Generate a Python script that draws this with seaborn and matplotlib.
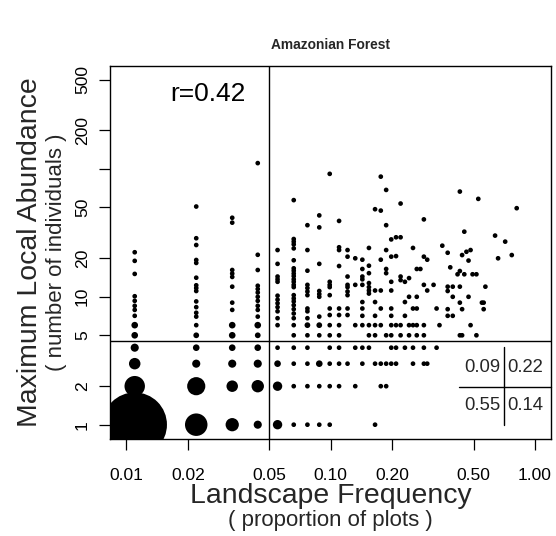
import numpy as np
import pandas as pd
import matplotlib
matplotlib.use("Agg")
import matplotlib.pyplot as plt
from matplotlib.ticker import FixedLocator, NullLocator
import seaborn as sns

N_PLOTS = 91  # landscape frequency = plots occupied / N_PLOTS

# Low-abundance rows (1..6 individuals): plots occupied and relative symbol weight
row_levels = [1, 2, 3, 4, 5, 6]
row_plots_1 = [1, 2, 3, 4, 5, 6, 7, 8, 9, 15]
row_weight_1 = [189, 23, 8, 3, 4, 1, 1, 1, 1, 1]
row_plots_2 = [1, 2, 3, 4, 5, 6, 7, 8, 9, 10, 12, 16, 17]
row_weight_2 = [19, 15, 6, 7, 4, 1, 1, 1, 1, 1, 1, 1, 1]
row_plots_3 = [1, 2, 3, 4, 5, 6, 7, 8, 9, 10, 11, 13, 15, 16, 17, 18, 19, 23, 26, 27]
row_weight_3 = [6, 3, 3, 3, 2, 1, 1, 2, 1, 1, 1, 1, 1, 1, 1, 1, 1, 1, 1, 1]
row_plots_4 = [1, 2, 3, 4, 5, 6, 7, 9, 10, 12, 13, 14, 18, 19, 21, 23, 26, 30]
row_weight_4 = [3, 2, 2, 2, 1, 1, 1, 1, 1, 1, 1, 1, 1, 1, 1, 1, 1, 1]
row_plots_5 = [1, 2, 3, 4, 6, 7, 8, 9, 10, 14, 15, 17, 18, 20, 22, 24, 26, 39, 40, 47]
row_weight_5 = [2, 1.5, 2, 1.5, 1, 1, 1, 1, 1, 1, 1, 1, 1, 1, 1, 1, 1, 1, 1, 1]
row_plots_6 = [1, 2, 3, 4, 5, 6, 7, 8, 9, 10, 12, 13, 14, 15, 16, 18, 19, 20, 22, 23, 24, 26, 31, 44]
row_weight_6 = [2, 1, 2, 2, 1, 1, 1.5, 1.5, 1, 1, 1, 1, 1, 1, 1, 1, 1, 1, 1, 1, 1, 1, 1, 1]

# Species with higher maximum local abundance (single symbols)
upper_plots = [
    1, 1, 1, 1, 1, 1, 1, 1,
    2, 2, 2, 2, 2, 2, 2, 2, 2, 2, 2, 2, 2,
    3, 3, 3, 3, 3, 3, 3, 3,
    4, 4, 4, 4, 4, 4, 4, 4, 4, 4, 4,
    5, 5, 5, 5, 5, 5, 5, 5, 5, 5, 5,
    6, 6, 6, 6, 6, 6, 6, 6, 6, 6, 6, 6, 6, 6, 6, 6, 6, 6, 6, 6, 6,
    7, 7, 7, 7, 7, 7, 7, 7, 7, 7,
    8, 8, 8, 8, 8, 8, 8,
    9, 9, 9, 9, 9, 9, 9,
    10, 10, 10, 10, 10, 10,
    11, 11, 11, 11, 11, 11, 11, 11, 11,
    12, 12,
    13, 13, 13, 13, 13, 13, 13, 13,
    14, 14, 14, 14, 14, 14, 14,
    15, 15, 15, 15,
    16, 16, 16, 16, 16,
    17, 17, 17, 17, 17,
    18, 18, 18, 18, 18, 18,
    19, 19,
    20, 20, 20, 20,
    21, 21, 21,
    22, 22,
    23, 23,
    24, 24, 24,
    25,
    26, 26, 26,
    27, 27,
    29, 30, 32,
    34, 34, 34, 34, 34,
    35,
    36, 36, 36,
    38,
    39, 39, 39, 39,
    40, 40,
    41, 41,
    42,
    43, 43,
    44, 45, 47, 48, 50,
    51, 51,
    52, 58, 60, 65, 70, 74,
]
upper_abund = [
    22.3, 19.1, 15.1, 10.1, 9.3, 8.5, 7.9, 7.1,
    50.8, 28.7, 25.4, 19.4, 18.4, 14.1, 12.3, 11.7, 11.1, 9.2, 8.3, 7.5, 7.0,
    41.5, 38.0, 16.2, 15.2, 14.3, 12.0, 9.0, 7.9,
    111, 21.3, 16.2, 12.2, 11.5, 10.8, 10.0, 9.3, 8.5, 7.9, 7.0,
    23.2, 18.1, 14.4, 13.7, 13.1, 10.2, 9.5, 8.9, 8.3, 7.7, 6.8,
    57.0, 28.3, 27.0, 25.7, 23.9, 19.3, 16.7, 16.0, 15.2, 14.5, 13.7, 13.1, 12.4, 11.9, 10.3, 9.7, 9.2, 8.6, 8.0, 7.4, 6.8,
    36.3, 23.2, 16.0, 12.4, 11.7, 11.0, 10.3, 8.1, 7.7, 6.8,
    43.3, 34.9, 18.1, 11.1, 10.5, 10.0, 7.0,
    91.5, 13.1, 12.4, 11.9, 10.3, 8.1, 7.2,
    39.2, 24.4, 23.2, 17.4, 8.1, 7.2,
    23.2, 20.6, 14.4, 12.4, 11.9, 11.0, 10.3, 8.1, 7.2,
    20.0, 12.4,
    19.5, 16.5, 14.4, 13.7, 12.4, 9.1, 8.1, 7.1,
    24.1, 17.5, 15.3, 12.8, 11.9, 11.2, 10.6,
    48.4, 11.2, 9.1, 7.1,
    87.0, 47.2, 19.5, 11.2, 8.1,
    68.5, 36.3, 23.2, 16.5, 15.3,
    28.1, 20.6, 13.1, 11.2, 8.1, 7.1,
    29.2, 20.8,
    53.6, 29.2, 14.4, 13.5,
    13.1, 9.1, 7.1,
    14.0, 10.0,
    24.1, 8.1,
    16.5, 10.0, 8.1,
    16.5,
    40.3, 20.6, 12.4,
    19.5, 11.2,
    12.4, 8.1, 25.1,
    22.1, 12.0, 11.1, 8.0, 7.1,
    17.0,
    12.0, 10.0, 7.1,
    15.0,
    66.5, 15.9, 12.0, 9.0,
    21.2, 8.0,
    32.3, 15.0,
    22.5,
    19.2, 10.0,
    23.2, 15.0, 15.0, 58.3, 9.0,
    9.0, 8.0,
    12.0, 30.1, 20.0, 27.0, 21.2, 49.3,
]

# Quadrant cut-offs, correlation and quadrant proportions
freq_cut = 0.05
abund_cut = 4.5
r_value = 0.42
quad_top = ["0.09", "0.22"]
quad_bottom = ["0.55", "0.14"]

x_ticks = [0.01, 0.02, 0.05, 0.10, 0.20, 0.50, 1.00]
x_labels = ["0.01", "0.02", "0.05", "0.10", "0.20", "0.50", "1.00"]
y_ticks = [1, 2, 5, 10, 20, 50, 100, 200, 500]
y_labels = ["1", "2", "5", "10", "20", "50", "", "200", "500"]

# ---- assemble table ----
plots, abund, weight = [], [], []
row_plots = [row_plots_1, row_plots_2, row_plots_3, row_plots_4, row_plots_5, row_plots_6]
row_weights = [row_weight_1, row_weight_2, row_weight_3, row_weight_4, row_weight_5, row_weight_6]
for lvl, ps, ws in zip(row_levels, row_plots, row_weights):
    plots += ps
    abund += [lvl] * len(ps)
    weight += ws
plots += upper_plots
abund += upper_abund
weight += [1] * len(upper_plots)

df = pd.DataFrame({
    "frequency": np.asarray(plots, dtype=float) / N_PLOTS,
    "abundance": np.asarray(abund, dtype=float),
    "weight": np.asarray(weight, dtype=float),
})

sns.set_theme(style="ticks")
plt.rcParams.update({
    "font.family": ["Liberation Sans", "DejaVu Sans"],
    "axes.edgecolor": "black",
    "axes.linewidth": 1.0,
    "xtick.direction": "out",
    "ytick.direction": "out",
    "xtick.major.size": 7.9,
    "ytick.major.size": 7.9,
    "xtick.major.width": 0.9,
    "ytick.major.width": 0.9,
    "xtick.major.pad": 13.3,
    "ytick.major.pad": 8.6,
    "xtick.color": "black",
    "ytick.color": "black",
    "xtick.labelsize": 12.6,
    "ytick.labelsize": 12.6,
    "xtick.minor.visible": False,
    "ytick.minor.visible": False,
})

W, H = 556, 536
fig = plt.figure(figsize=(W / 100, H / 100), dpi=100)
ax_l, ax_r, ax_t, ax_b = 110, 551.4, 65.7, 438.5
ax = fig.add_axes([ax_l / W, 1 - ax_b / H, (ax_r - ax_l) / W, (ax_b - ax_t) / H])
ax.set_xscale("log")
ax.set_yscale("log")

base = 11.4  # marker area (pt^2) of a single-weight symbol
wmax = df["weight"].max()
sns.scatterplot(data=df, x="frequency", y="abundance", size="weight",
                sizes=(base, base * wmax), size_norm=(1, wmax),
                color="black", linewidth=0, legend=False, ax=ax, zorder=3)

ax.set_xlim(10 ** -2.08, 10 ** 0.08)
ax.set_ylim(10 ** -0.108, 10 ** 2.807)

ax.axvline(freq_cut, color="black", lw=1.0, zorder=2)
ax.axhline(abund_cut, color="black", lw=1.0, zorder=2)

ax.xaxis.set_major_locator(FixedLocator(x_ticks))
ax.yaxis.set_major_locator(FixedLocator(y_ticks))
ax.xaxis.set_minor_locator(NullLocator())
ax.yaxis.set_minor_locator(NullLocator())
ax.set_xticks(x_ticks, x_labels)
ax.set_yticks(y_ticks, y_labels, rotation=90, rotation_mode="anchor",
              ha="center", va="baseline")
ax.set_xlabel("")
ax.set_ylabel("")
for sp in ax.spines.values():
    sp.set_visible(True)
    sp.set_color("black")
    sp.set_linewidth(1.0)

# correlation label
ax.text(0.2209, 0.9254, f"r={r_value:.2f}", transform=ax.transAxes,
        ha="center", va="center", fontsize=19, color="black")

# quadrant proportion table in the lower-right corner
ax.plot([0.8926, 0.8926], [0.0362, 0.2462], transform=ax.transAxes,
        color="black", lw=1.0, clip_on=False)
ax.plot([0.7907, 1.0], [0.1389, 0.1389], transform=ax.transAxes,
        color="black", lw=1.0, clip_on=False)
ax.text(0.8851, 0.1899, quad_top[0], transform=ax.transAxes, ha="right", va="center", fontsize=13.3)
ax.text(0.9010, 0.1899, quad_top[1], transform=ax.transAxes, ha="left", va="center", fontsize=13.3)
ax.text(0.8851, 0.0872, quad_bottom[0], transform=ax.transAxes, ha="right", va="center", fontsize=13.3)
ax.text(0.9010, 0.0872, quad_bottom[1], transform=ax.transAxes, ha="left", va="center", fontsize=13.3)

# titles and axis labels
fig.text(330.7 / W, 1 - 45 / H, "Amazonian Forest", ha="center", va="center",
         fontsize=9.9, fontweight="bold")
fig.text(330.7 / W, 1 - 503 / H, "Landscape Frequency", ha="center", va="baseline",
         fontsize=20.4)
fig.text(330.7 / W, 1 - 526 / H, "( proportion of plots )", ha="center", va="baseline",
         fontsize=16.0)
fig.text(36.7 / W, 1 - 252.1 / H, "Maximum Local Abundance", ha="center", va="baseline",
         rotation=90, rotation_mode="anchor", fontsize=20.4)
fig.text(62 / W, 1 - 252.1 / H, "( number of individuals )", ha="center", va="baseline",
         rotation=90, rotation_mode="anchor", fontsize=16.0)

fig.savefig("out.png", dpi=100, facecolor="white")
